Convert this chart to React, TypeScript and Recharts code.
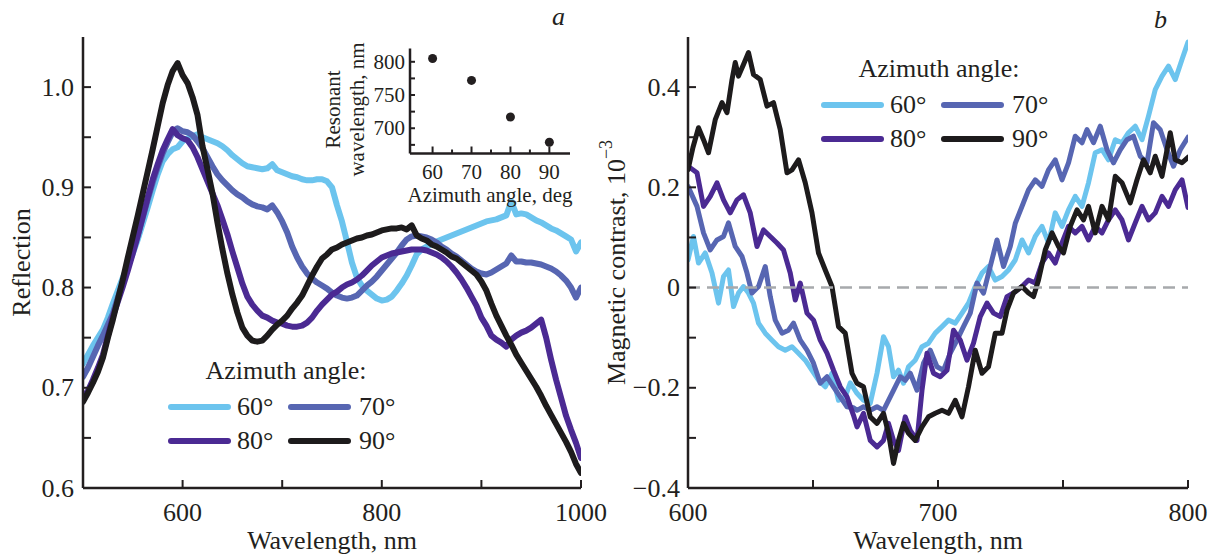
import React from "react";
import { LineChart, Line, XAxis, YAxis, ReferenceLine, Legend, ScatterChart, Scatter } from "recharts";

const FONT = '"Liberation Serif", "Times New Roman", serif';
const INK = "#231f20";
const COLORS = ["#6cc4ee", "#5766b2", "#4b2a93", "#1d1b1c"];
const ANGLE_LABELS = ["60°", "70°", "80°", "90°"];

// panel a: reflection spectra, 5 nm grid
const waveA = [
  500, 505, 510, 515, 520, 525, 530, 535, 540, 545,
  550, 555, 560, 565, 570, 575, 580, 585, 590, 595,
  600, 605, 610, 615, 620, 625, 630, 635, 640, 645,
  650, 655, 660, 665, 670, 675, 680, 685, 690, 695,
  700, 705, 710, 715, 720, 725, 730, 735, 740, 745,
  750, 755, 760, 765, 770, 775, 780, 785, 790, 795,
  800, 805, 810, 815, 820, 825, 830, 835, 840, 845,
  850, 855, 860, 865, 870, 875, 880, 885, 890, 895,
  900, 905, 910, 915, 920, 925, 930, 935, 940, 945,
  950, 955, 960, 965, 970, 975, 980, 985, 990, 995,
  1000,
];

const refl60 = [
  0.724, 0.733, 0.742, 0.750, 0.758, 0.770, 0.784, 0.797, 0.810, 0.822,
  0.834, 0.848, 0.864, 0.880, 0.897, 0.913, 0.926, 0.933, 0.938, 0.940,
  0.946, 0.949, 0.951, 0.953, 0.950, 0.948, 0.946, 0.944, 0.941, 0.937,
  0.932, 0.928, 0.924, 0.921, 0.920, 0.919, 0.918, 0.919, 0.923, 0.917,
  0.915, 0.913, 0.911, 0.910, 0.908, 0.907, 0.907, 0.908, 0.908, 0.906,
  0.900, 0.882, 0.866, 0.846, 0.825, 0.810, 0.802, 0.797, 0.793, 0.789,
  0.787, 0.788, 0.791, 0.797, 0.804, 0.812, 0.822, 0.833, 0.838, 0.841,
  0.843, 0.846, 0.848, 0.850, 0.852, 0.854, 0.856, 0.858, 0.860, 0.862,
  0.864, 0.866, 0.867, 0.868, 0.870, 0.872, 0.886, 0.873, 0.874, 0.873,
  0.870, 0.867, 0.865, 0.862, 0.859, 0.857, 0.854, 0.851, 0.848, 0.836,
  0.845,
];

const refl70 = [
  0.711, 0.720, 0.731, 0.742, 0.752, 0.763, 0.774, 0.790, 0.805, 0.820,
  0.836, 0.852, 0.870, 0.888, 0.905, 0.920, 0.934, 0.945, 0.955, 0.959,
  0.956, 0.955, 0.952, 0.946, 0.939, 0.930, 0.921, 0.913, 0.907, 0.902,
  0.897, 0.893, 0.890, 0.886, 0.883, 0.881, 0.880, 0.878, 0.882, 0.875,
  0.866, 0.855, 0.841, 0.830, 0.821, 0.814, 0.809, 0.805, 0.802, 0.799,
  0.795, 0.792, 0.790, 0.789, 0.790, 0.792, 0.797, 0.802, 0.806, 0.811,
  0.817, 0.823, 0.829, 0.835, 0.842, 0.848, 0.851, 0.852, 0.851, 0.850,
  0.848, 0.845, 0.841, 0.838, 0.834, 0.831, 0.827, 0.823, 0.819, 0.816,
  0.814, 0.813, 0.815, 0.818, 0.821, 0.824, 0.832, 0.826, 0.826, 0.825,
  0.825, 0.824, 0.823, 0.821, 0.819, 0.816, 0.812, 0.807, 0.800, 0.790,
  0.800,
];

const refl80 = [
  0.690, 0.697, 0.708, 0.720, 0.733, 0.752, 0.771, 0.786, 0.801, 0.817,
  0.834, 0.852, 0.871, 0.890, 0.908, 0.923, 0.937, 0.948, 0.958, 0.952,
  0.949, 0.947, 0.940, 0.930, 0.918, 0.906, 0.894, 0.882, 0.868, 0.853,
  0.836, 0.820, 0.804, 0.791, 0.783, 0.777, 0.772, 0.770, 0.767, 0.765,
  0.764, 0.762, 0.761, 0.761, 0.762, 0.765, 0.770, 0.777, 0.783, 0.788,
  0.793, 0.796, 0.800, 0.803, 0.805, 0.808, 0.812, 0.817, 0.822, 0.826,
  0.830, 0.832, 0.834, 0.835, 0.836, 0.837, 0.838, 0.838, 0.838, 0.837,
  0.835, 0.833, 0.830, 0.826, 0.821, 0.815, 0.808, 0.800, 0.791, 0.782,
  0.770, 0.762, 0.752, 0.748, 0.745, 0.741, 0.748, 0.752, 0.755, 0.757,
  0.760, 0.764, 0.768, 0.750, 0.728, 0.708, 0.690, 0.672, 0.658, 0.645,
  0.630,
];

const refl90 = [
  0.686, 0.695, 0.705, 0.716, 0.730, 0.750, 0.768, 0.788, 0.808, 0.830,
  0.851, 0.872, 0.894, 0.916, 0.938, 0.961, 0.984, 1.002, 1.016, 1.024,
  1.012, 1.004, 0.990, 0.972, 0.941, 0.918, 0.894, 0.865, 0.838, 0.814,
  0.793, 0.775, 0.760, 0.752, 0.747, 0.746, 0.747, 0.752, 0.758, 0.763,
  0.767, 0.772, 0.779, 0.785, 0.792, 0.802, 0.812, 0.821, 0.829, 0.833,
  0.838, 0.840, 0.843, 0.845, 0.847, 0.849, 0.850, 0.852, 0.853, 0.855,
  0.857, 0.858, 0.859, 0.859, 0.860, 0.858, 0.862, 0.852, 0.849, 0.847,
  0.843, 0.841, 0.838, 0.835, 0.831, 0.829, 0.825, 0.821, 0.817, 0.813,
  0.806, 0.797, 0.784, 0.772, 0.762, 0.752, 0.743, 0.733, 0.725, 0.717,
  0.709, 0.701, 0.692, 0.682, 0.673, 0.664, 0.655, 0.646, 0.636, 0.624,
  0.615,
];

// panel b: magnetic contrast, [wavelength nm, value x1e-3]
const magn60: [number, number][] = [
  [600, 0.055], [602.2, 0.102], [604.2, 0.049], [606.9, 0.069], [609.6, 0.029], [612.2, -0.031],
  [614.2, 0.022], [616.2, 0.035], [618.2, -0.038], [620.2, -0.011], [622.2, 0.002], [624.2, -0.011],
  [626.2, -0.031], [628.2, -0.071], [630.9, -0.091], [633.6, -0.105], [636.2, -0.118], [638.9, -0.125],
  [641.6, -0.118], [644.2, -0.131], [646.9, -0.145], [649.6, -0.165], [652.2, -0.185], [654.9, -0.198],
  [657.6, -0.171], [660.2, -0.225], [662.9, -0.218], [664.9, -0.19], [667.6, -0.211], [670.2, -0.225],
  [672.9, -0.231], [675.6, -0.171], [678.2, -0.098], [680.2, -0.118], [682.2, -0.178], [684.2, -0.165],
  [686.2, -0.191], [688.2, -0.158], [690.9, -0.145], [693.6, -0.118], [696.2, -0.111], [698.9, -0.091],
  [701.6, -0.078], [704.2, -0.065], [706.9, -0.071], [709.6, -0.051], [712.2, -0.031], [714.9, 0.002],
  [717.6, 0.029], [720.2, 0.042], [722.9, 0.015], [725.6, 0.022], [728.2, 0.035], [730.9, 0.055],
  [733.6, 0.095], [736.2, 0.069], [738.9, 0.102], [741.6, 0.122], [744.2, 0.089], [746.9, 0.149],
  [749.6, 0.122], [752.2, 0.155], [754.9, 0.182], [757.6, 0.162], [760.2, 0.209], [762.9, 0.269],
  [765.6, 0.275], [768.2, 0.255], [770.9, 0.295], [773.6, 0.289], [776.2, 0.309], [778.9, 0.322],
  [781.6, 0.295], [784.2, 0.342], [786.9, 0.395], [789.6, 0.422], [792.2, 0.442], [794.9, 0.415],
  [797.6, 0.455], [800, 0.49],
];

const magn70: [number, number][] = [
  [600, 0.202], [603.6, 0.162], [606.2, 0.109], [608.9, 0.075], [611.6, 0.095], [614.2, 0.102],
  [616.2, 0.129], [618.9, 0.082], [621.6, 0.062], [623.6, 0.029], [625.6, -0.011], [628.2, 0.002],
  [630.9, 0.042], [632.9, -0.018], [634.9, -0.065], [637.6, -0.091], [640.2, -0.085], [642.2, -0.071],
  [644.9, -0.105], [647.6, -0.125], [650.2, -0.151], [652.9, -0.191], [655.6, -0.178], [658.2, -0.198],
  [660.9, -0.218], [663.6, -0.238], [666.2, -0.24], [667.6, -0.245], [670.2, -0.238], [672.9, -0.245],
  [675.6, -0.238], [678.2, -0.245], [680.2, -0.225], [682.2, -0.205], [684.9, -0.178], [686.9, -0.185],
  [688.9, -0.171], [691.6, -0.205], [694.2, -0.151], [696.9, -0.125], [699.6, -0.158], [702.2, -0.165],
  [704.9, -0.131], [707.6, -0.105], [710.2, -0.078], [712.9, -0.051], [715.6, 0.009], [718.2, -0.011],
  [720.9, 0.042], [723.6, 0.095], [726.2, 0.042], [728.9, 0.082], [730.9, 0.128], [733.6, 0.162],
  [736.2, 0.195], [738.9, 0.215], [741.6, 0.202], [744.2, 0.235], [746.9, 0.255], [749.6, 0.215],
  [752.2, 0.249], [754.9, 0.302], [757.6, 0.289], [759.6, 0.315], [762.2, 0.289], [764.9, 0.322],
  [767.6, 0.275], [770.2, 0.249], [772.9, 0.275], [775.6, 0.295], [778.2, 0.302], [780.9, 0.262],
  [783.6, 0.249], [786.2, 0.329], [788.9, 0.315], [791.6, 0.275], [794.2, 0.242], [796.9, 0.275],
  [800, 0.3],
];

const magn80: [number, number][] = [
  [600, 0.242], [603.6, 0.229], [606.2, 0.162], [608.9, 0.182], [611.6, 0.209], [614.2, 0.175],
  [616.9, 0.149], [619.6, 0.175], [622.2, 0.185], [624.9, 0.149], [627.6, 0.082], [630.2, 0.115],
  [632.9, 0.102], [635.6, 0.089], [638.2, 0.075], [640.9, 0.029], [642.9, -0.025], [644.9, 0.009],
  [647.6, -0.051], [650.2, -0.065], [652.9, -0.105], [655.6, -0.131], [658.2, -0.165], [660.9, -0.198],
  [663.6, -0.218], [666.2, -0.255], [667.6, -0.278], [670.2, -0.251], [672.9, -0.305], [675.6, -0.318],
  [678.2, -0.305], [680.2, -0.271], [682.2, -0.305], [684.2, -0.325], [686.9, -0.258], [688.9, -0.285],
  [691.6, -0.305], [693.6, -0.205], [695.6, -0.131], [698.2, -0.171], [700.9, -0.178], [703.6, -0.165],
  [706.2, -0.085], [708.9, -0.105], [711.6, -0.145], [714.2, -0.111], [716.9, -0.058], [719.6, -0.031],
  [722.2, -0.051], [724.9, -0.058], [727.6, -0.018], [730.2, -0.011], [733.6, 0.002], [736.2, 0.015],
  [738.9, 0.009], [741.6, 0.049], [744.2, 0.069], [746.9, 0.049], [749.6, 0.089], [752.2, 0.122],
  [754.9, 0.109], [757.6, 0.122], [760.2, 0.095], [762.9, 0.122], [765.6, 0.109], [768.2, 0.135],
  [770.9, 0.155], [773.6, 0.135], [776.2, 0.095], [778.9, 0.129], [781.6, 0.162], [784.2, 0.135],
  [786.9, 0.149], [789.6, 0.182], [792.2, 0.162], [794.9, 0.195], [797.6, 0.215], [800, 0.16],
];

const magn90: [number, number][] = [
  [600, 0.235], [602, 0.28], [604.2, 0.319], [606.2, 0.295], [608.2, 0.269], [610.9, 0.335],
  [613.6, 0.369], [615.6, 0.349], [617.6, 0.415], [618.9, 0.449], [620.2, 0.422], [622.2, 0.445],
  [624.2, 0.469], [626.2, 0.425], [628.9, 0.415], [631.6, 0.362], [634.2, 0.369], [636.9, 0.315],
  [639.6, 0.229], [641.6, 0.235], [644.2, 0.255], [646.9, 0.209], [649.6, 0.149], [652.2, 0.069],
  [654.9, 0.035], [657.6, 0.002], [660.2, -0.078], [662.9, -0.091], [665.6, -0.171], [667.6, -0.191],
  [670.2, -0.198], [672.9, -0.258], [675.6, -0.271], [678.2, -0.251], [680.2, -0.291], [682.2, -0.351],
  [684.2, -0.305], [686.2, -0.271], [688.2, -0.291], [690.9, -0.305], [693.6, -0.278], [696.2, -0.258],
  [698.9, -0.251], [701.6, -0.245], [704.2, -0.251], [706.9, -0.225], [709.6, -0.258], [712.2, -0.198],
  [714.9, -0.125], [717.6, -0.171], [720.2, -0.158], [722.9, -0.091], [725.6, -0.091], [727.6, -0.045],
  [730.2, -0.011], [733.6, 0.002], [736.2, -0.011], [738.2, -0.018], [740.2, 0.015], [742.9, 0.075],
  [745.6, 0.109], [748.2, 0.082], [750.2, 0.069], [752.9, 0.122], [755.6, 0.155], [758.2, 0.135],
  [760.2, 0.162], [762.9, 0.109], [765.6, 0.162], [768.2, 0.135], [770.9, 0.222], [773.6, 0.209],
  [776.9, 0.169], [779.6, 0.215], [782.2, 0.255], [784.9, 0.229], [786.9, 0.262], [789.6, 0.222],
  [792.9, 0.309], [794.9, 0.255], [797.6, 0.249], [800, 0.26],
];

// inset: resonant wavelength vs azimuth angle
const insetAngles = [60, 70, 80, 90];
const insetResonance = [805, 772, 717, 679];

// ticks
const xTicksA = [500, 600, 700, 800, 900, 1000];
const xLabelsA = [600, 800, 1000];
const yTicksA = [0.6, 0.65, 0.7, 0.75, 0.8, 0.85, 0.9, 0.95, 1.0];
const yLabelsA = [0.6, 0.7, 0.8, 0.9, 1.0];
const xTicksB = [600, 650, 700, 750, 800];
const xLabelsB = [600, 700, 800];
const yTicksB = [-0.4, -0.3, -0.2, -0.1, 0, 0.1, 0.2, 0.3, 0.4];
const yLabelsB = [-0.4, -0.2, 0, 0.2, 0.4];
const xTicksInset = [60, 65, 70, 75, 80, 85, 90];
const xLabelsInset = [60, 70, 80, 90];
const yTicksInset = [675, 700, 725, 750, 775, 800];
const yLabelsInset = [700, 750, 800];

const rowsA = waveA.map((w, i) => ({ w, r60: refl60[i], r70: refl70[i], r80: refl80[i], r90: refl90[i] }));
const toPts = (arr: [number, number][]) => arr.map(([w, v]) => ({ w, v }));
const magnSeries = [magn60, magn70, magn80, magn90].map(toPts);
const insetData = insetAngles.map((a, i) => ({ a, r: insetResonance[i] }));

const hasLabel = (list: number[], v: number) => list.some((l) => Math.abs(l - v) < 1e-6);
const fmtDec = (v: number) => (Math.abs(v) < 1e-9 ? "0" : (v < 0 ? "\u2212" : "") + Math.abs(v).toFixed(1));

function BottomTick(props: any) {
  const { x, y, payload, labels, len, minorLen, gap, fontSize } = props;
  const show = hasLabel(labels, payload.value);
  return (
    <g>
      <line x1={x} x2={x} y1={y} y2={y - (show ? len : minorLen ?? len)} stroke={INK} strokeWidth={2} />
      {show && (
        <text x={x} y={y + gap} textAnchor="middle" dominantBaseline="central" fontFamily={FONT} fontSize={fontSize} fill={INK}>
          {String(payload.value)}
        </text>
      )}
    </g>
  );
}

function LeftTick(props: any) {
  const { x, y, payload, labels, len, gap, fontSize, fmt } = props;
  const show = hasLabel(labels, payload.value);
  return (
    <g>
      <line x1={x} x2={x + len} y1={y} y2={y} stroke={INK} strokeWidth={2} />
      {show && (
        <text x={x - gap} y={y} textAnchor="end" dominantBaseline="central" fontFamily={FONT} fontSize={fontSize} fill={INK}>
          {fmt(payload.value)}
        </text>
      )}
    </g>
  );
}

function AngleLegend() {
  const lineLeft = [3, 123];
  const textLeft = [72, 194];
  const rowY = [55, 89];
  return (
    <div style={{ position: "relative", width: 245, height: 110, fontFamily: FONT, fontSize: 26, color: INK, lineHeight: "26px" }}>
      <div style={{ position: "absolute", left: 0, width: 242, top: 6, textAlign: "center", whiteSpace: "nowrap" }}>Azimuth angle:</div>
      {ANGLE_LABELS.map((lab, i) => {
        const col = i % 2;
        const row = Math.floor(i / 2);
        return (
          <React.Fragment key={lab}>
            <div
              style={{
                position: "absolute",
                left: lineLeft[col],
                top: rowY[row] - 3,
                width: 63,
                height: 6,
                borderRadius: 3,
                background: COLORS[i],
              }}
            />
            <div style={{ position: "absolute", left: textLeft[col], top: rowY[row] - 13, whiteSpace: "nowrap" }}>{lab}</div>
          </React.Fragment>
        );
      })}
    </div>
  );
}

const axisLine = { stroke: INK, strokeWidth: 2.5 };

function PanelA() {
  return (
    <LineChart width={625} height={556} data={rowsA} margin={{ top: 37, right: 44, bottom: 0, left: 0 }}>
      <XAxis
        dataKey="w"
        type="number"
        domain={[500, 1000]}
        allowDataOverflow
        ticks={xTicksA}
        interval={0}
        height={68}
        tickSize={0}
        tickMargin={0}
        tickLine={false}
        axisLine={axisLine}
        tick={(p: any) => <BottomTick {...p} labels={xLabelsA} len={8} gap={24} fontSize={26} />}
        label={(p: any) => {
          const vb = p.viewBox;
          return (
            <text x={vb.x + vb.width / 2} y={vb.y + 52} textAnchor="middle" dominantBaseline="central" fontFamily={FONT} fontSize={26} fill={INK}>
              Wavelength, nm
            </text>
          );
        }}
      />
      <XAxis xAxisId="top" orientation="top" type="number" domain={[500, 1000]} height={0} tick={false} tickLine={false} axisLine={axisLine} />
      <YAxis
        type="number"
        domain={[0.6, 1.05]}
        allowDataOverflow
        ticks={yTicksA}
        interval={0}
        width={83}
        tickSize={0}
        tickMargin={0}
        tickLine={false}
        axisLine={axisLine}
        tick={(p: any) => <LeftTick {...p} labels={yLabelsA} len={8} gap={9} fontSize={26} fmt={(v: number) => v.toFixed(1)} />}
        label={(p: any) => {
          const vb = p.viewBox;
          const cx = vb.x + 21.5;
          const cy = vb.y + vb.height / 2;
          return (
            <text x={cx} y={cy} transform={`rotate(-90 ${cx} ${cy})`} textAnchor="middle" dominantBaseline="central" fontFamily={FONT} fontSize={26} fill={INK}>
              Reflection
            </text>
          );
        }}
      />
      <YAxis yAxisId="right" orientation="right" type="number" domain={[0.6, 1.05]} width={0} tick={false} tickLine={false} axisLine={axisLine} />
      {["r60", "r70", "r80", "r90"].map((k, i) => (
        <Line
          key={k}
          dataKey={k}
          type="linear"
          stroke={COLORS[i]}
          strokeWidth={6}
          strokeLinejoin="round"
          strokeLinecap="round"
          dot={false}
          isAnimationActive={false}
        />
      ))}
      <Legend
        layout="vertical"
        align="center"
        verticalAlign="middle"
        content={() => <AngleLegend />}
        wrapperStyle={{ left: 165, top: 352, width: 245, height: 110 }}
      />
    </LineChart>
  );
}

function PanelB() {
  return (
    <LineChart width={623} height={556} margin={{ top: 37, right: 25, bottom: 0, left: 0 }}>
      <XAxis
        dataKey="w"
        type="number"
        domain={[600, 800]}
        allowDataOverflow
        ticks={xTicksB}
        interval={0}
        height={68}
        tickSize={0}
        tickMargin={0}
        tickLine={false}
        axisLine={axisLine}
        tick={(p: any) => <BottomTick {...p} labels={xLabelsB} len={8} gap={24} fontSize={26} />}
        label={(p: any) => {
          const vb = p.viewBox;
          return (
            <text x={vb.x + vb.width / 2} y={vb.y + 52} textAnchor="middle" dominantBaseline="central" fontFamily={FONT} fontSize={26} fill={INK}>
              Wavelength, nm
            </text>
          );
        }}
      />
      <XAxis xAxisId="top" orientation="top" type="number" domain={[600, 800]} height={0} tick={false} tickLine={false} axisLine={axisLine} />
      <YAxis
        type="number"
        domain={[-0.4, 0.5]}
        allowDataOverflow
        ticks={yTicksB}
        interval={0}
        width={98}
        tickSize={0}
        tickMargin={0}
        tickLine={false}
        axisLine={axisLine}
        tick={(p: any) => <LeftTick {...p} labels={yLabelsB} len={8} gap={8} fontSize={26} fmt={fmtDec} />}
        label={(p: any) => {
          const vb = p.viewBox;
          const cx = vb.x + 26;
          const cy = vb.y + vb.height / 2;
          return (
            <text x={cx} y={cy} transform={`rotate(-90 ${cx} ${cy})`} textAnchor="middle" dominantBaseline="central" fontFamily={FONT} fontSize={26} fill={INK}>
              Magnetic contrast, 10
              <tspan fontSize={18} dy={-10}>
                {"\u22123"}
              </tspan>
            </text>
          );
        }}
      />
      <YAxis yAxisId="right" orientation="right" type="number" domain={[-0.4, 0.5]} width={0} tick={false} tickLine={false} axisLine={axisLine} />
      {magnSeries.map((pts, i) => (
        <Line
          key={ANGLE_LABELS[i]}
          data={pts}
          dataKey="v"
          type="linear"
          stroke={COLORS[i]}
          strokeWidth={5}
          strokeLinejoin="round"
          strokeLinecap="round"
          dot={false}
          isAnimationActive={false}
        />
      ))}
      <ReferenceLine y={0} stroke="#a7a9ac" strokeWidth={2.5} strokeDasharray="12 7" />
      <Legend
        layout="vertical"
        align="center"
        verticalAlign="middle"
        content={() => <AngleLegend />}
        wrapperStyle={{ left: 228, top: 50, width: 245, height: 110 }}
      />
    </LineChart>
  );
}

function Inset() {
  return (
    <ScatterChart width={290} height={200} margin={{ top: 28.5, right: 20, bottom: 0, left: 0 }}>
      <XAxis
        dataKey="a"
        type="number"
        domain={[54.2, 95.3]}
        allowDataOverflow
        ticks={xTicksInset}
        interval={0}
        height={66.5}
        tickSize={0}
        tickMargin={0}
        tickLine={false}
        axisLine={axisLine}
        tick={(p: any) => <BottomTick {...p} labels={xLabelsInset} len={7} minorLen={4} gap={18} fontSize={21} />}
        label={(p: any) => {
          const vb = p.viewBox;
          return (
            <text x={vb.x + vb.width / 2} y={vb.y + 41} textAnchor="middle" dominantBaseline="central" fontFamily={FONT} fontSize={21} fill={INK}>
              Azimuth angle, deg
            </text>
          );
        }}
      />
      <XAxis xAxisId="top" orientation="top" type="number" domain={[54.2, 95.3]} height={0} tick={false} tickLine={false} axisLine={axisLine} />
      <YAxis
        dataKey="r"
        type="number"
        domain={[662, 820]}
        allowDataOverflow
        ticks={yTicksInset}
        interval={0}
        width={110}
        tickSize={0}
        tickMargin={0}
        tickLine={false}
        axisLine={axisLine}
        tick={(p: any) => <LeftTick {...p} labels={yLabelsInset} len={5} gap={5} fontSize={21} fmt={(v: number) => String(v)} />}
        label={(p: any) => {
          const vb = p.viewBox;
          const cy = vb.y + vb.height / 2 + 8.5;
          const x1 = vb.x + 33;
          const x2 = vb.x + 57;
          return (
            <g fontFamily={FONT} fontSize={21} fill={INK}>
              <text x={x1} y={cy} transform={`rotate(-90 ${x1} ${cy})`} textAnchor="middle" dominantBaseline="central">
                Resonant
              </text>
              <text x={x2} y={cy} transform={`rotate(-90 ${x2} ${cy})`} textAnchor="middle" dominantBaseline="central">
                wavelength, nm
              </text>
            </g>
          );
        }}
      />
      <YAxis yAxisId="right" orientation="right" type="number" domain={[662, 820]} width={0} tick={false} tickLine={false} axisLine={axisLine} />
      <Scatter
        data={insetData}
        fill={INK}
        isAnimationActive={false}
        shape={(p: any) => <circle cx={p.cx} cy={p.cy} r={4.5} fill={INK} />}
      />
    </ScatterChart>
  );
}

export default function App() {
  return (
    <div style={{ position: "absolute", left: 0, top: 0, width: 1213, height: 556, background: "#fff", fontFamily: FONT, overflow: "hidden" }}>
      <div style={{ position: "absolute", left: 0, top: 0 }}>
        <PanelA />
      </div>
      <div style={{ position: "absolute", left: 300, top: 20 }}>
        <Inset />
      </div>
      <div style={{ position: "absolute", left: 590, top: 0 }}>
        <PanelB />
      </div>
      <div style={{ position: "absolute", left: 552, top: 4, fontStyle: "italic", fontSize: 26, lineHeight: "26px", color: INK }}>a</div>
      <div style={{ position: "absolute", left: 1154, top: 7, fontStyle: "italic", fontSize: 26, lineHeight: "26px", color: INK }}>b</div>
    </div>
  );
}
